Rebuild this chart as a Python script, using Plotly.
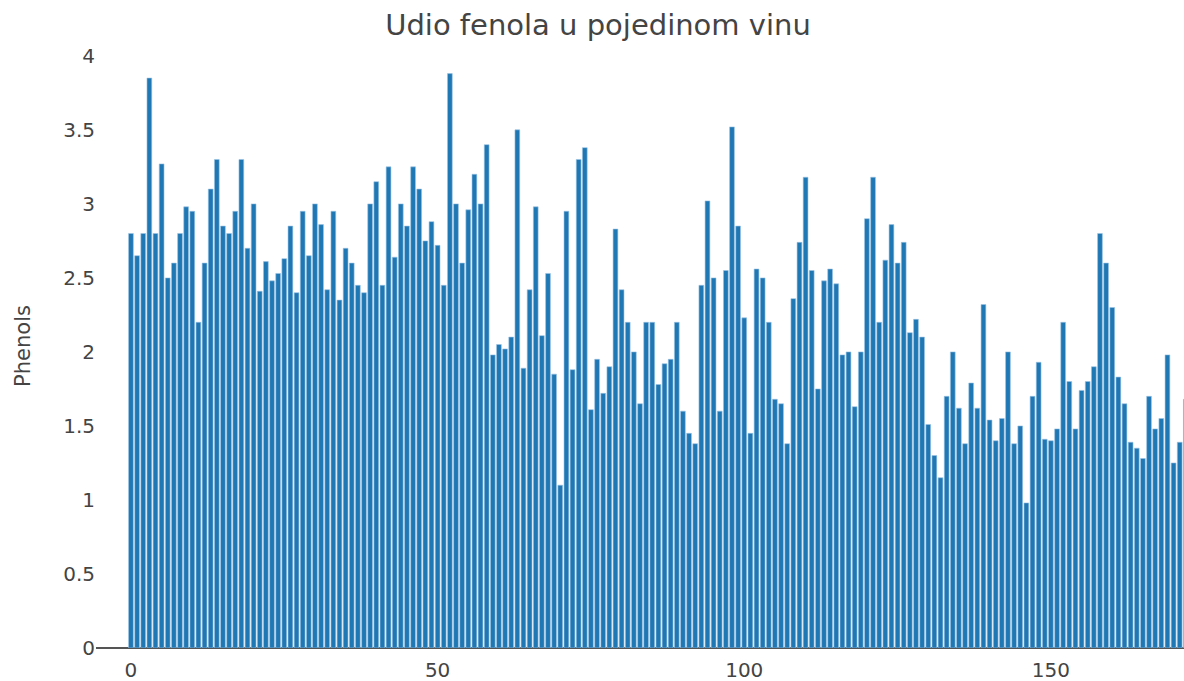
import plotly.graph_objects as go

# ukupni fenoli za svako vino (wine dataset, 178 uzoraka)
phenols = [
    2.8, 2.65, 2.8, 3.85, 2.8, 3.27, 2.5, 2.6, 2.8, 2.98,
    2.95, 2.2, 2.6, 3.1, 3.3, 2.85, 2.8, 2.95, 3.3, 2.7,
    3.0, 2.41, 2.61, 2.48, 2.53, 2.63, 2.85, 2.4, 2.95, 2.65,
    3.0, 2.86, 2.42, 2.95, 2.35, 2.7, 2.6, 2.45, 2.4, 3.0,
    3.15, 2.45, 3.25, 2.64, 3.0, 2.85, 3.25, 3.1, 2.75, 2.88,
    2.72, 2.45, 3.88, 3.0, 2.6, 2.96, 3.2, 3.0, 3.4, 1.98,
    2.05, 2.02, 2.1, 3.5, 1.89, 2.42, 2.98, 2.11, 2.53, 1.85,
    1.1, 2.95, 1.88, 3.3, 3.38, 1.61, 1.95, 1.72, 1.9, 2.83,
    2.42, 2.2, 2.0, 1.65, 2.2, 2.2, 1.78, 1.92, 1.95, 2.2,
    1.6, 1.45, 1.38, 2.45, 3.02, 2.5, 1.6, 2.55, 3.52, 2.85,
    2.23, 1.45, 2.56, 2.5, 2.2, 1.68, 1.65, 1.38, 2.36, 2.74,
    3.18, 2.55, 1.75, 2.48, 2.56, 2.46, 1.98, 2.0, 1.63, 2.0,
    2.9, 3.18, 2.2, 2.62, 2.86, 2.6, 2.74, 2.13, 2.22, 2.1,
    1.51, 1.3, 1.15, 1.7, 2.0, 1.62, 1.38, 1.79, 1.62, 2.32,
    1.54, 1.4, 1.55, 2.0, 1.38, 1.5, 0.98, 1.7, 1.93, 1.41,
    1.4, 1.48, 2.2, 1.8, 1.48, 1.74, 1.8, 1.9, 2.8, 2.6,
    2.3, 1.83, 1.65, 1.39, 1.35, 1.28, 1.7, 1.48, 1.55, 1.98,
    1.25, 1.39, 1.68, 1.68, 1.8, 1.59, 1.65, 2.05,
]
wine_index = list(range(len(phenols)))

font_family = "DejaVu Sans, Verdana, sans-serif"

fig = go.Figure()
fig.add_trace(go.Bar(
    x=wine_index, y=phenols,
    marker=dict(color="#1f77b4", line=dict(color="#9cc5e4", width=0.6)),
))

fig.update_layout(
    template="none",
    width=1184,
    height=681,
    margin=dict(l=96, r=0, t=44, b=33),
    paper_bgcolor="white",
    plot_bgcolor="white",
    bargap=0.22,
    font=dict(family=font_family, color="#444", size=20),
    title=dict(
        text="Udio fenola u pojedinom vinu",
        x=598 / 1184, xanchor="center",
        y=1 - 25 / 681, yanchor="middle",
        font=dict(family=font_family, size=29, color="#444"),
    ),
    showlegend=False,
)
# graf je odrezan na desnoj strani, zadnji stupci se ne vide
fig.update_xaxes(
    range=[-5.7, 171.7],
    dtick=50,
    showgrid=False,
    zeroline=False,
    ticks="",
    ticklabelstandoff=8,
    tickfont=dict(size=20),
)
fig.update_yaxes(
    range=[0, 4.08],
    dtick=0.5,
    showgrid=False,
    zeroline=True,
    zerolinecolor="#555",
    zerolinewidth=2,
    ticks="",
    tickfont=dict(size=20),
    title=dict(text="Phenols", font=dict(size=21), standoff=26),
)

# bez margine na body da graf stane tocno u prozor
fig.write_html(
    "out.html",
    config={"displayModeBar": False},
    post_script="document.body.style.margin='0';",
)
